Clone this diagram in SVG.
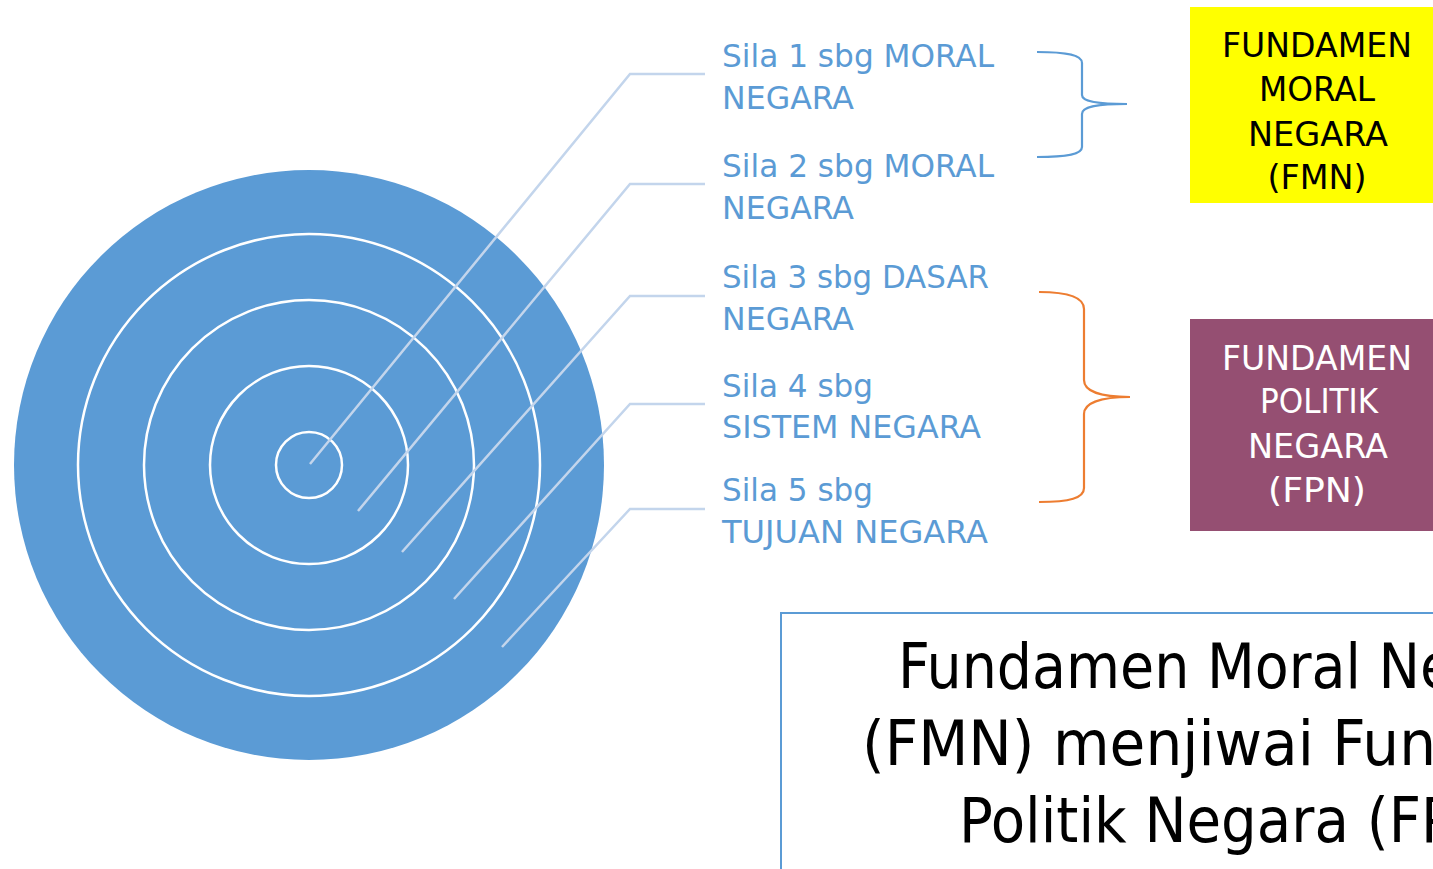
<svg xmlns="http://www.w3.org/2000/svg" width="1433" height="869" viewBox="0 0 1433 869">
  <style>
    .txt { font-family: "DejaVu Sans", "Liberation Sans", sans-serif; font-stretch: condensed; }
    .label { font-size: 32px; fill: #5b9bd5; }
    .boxtxt { font-size: 34px; text-anchor: middle; }
    .big { font-size: 62px; fill: #000000; }
    .leader { fill: none; stroke: #c3d5ec; stroke-width: 2.5; }
    .ring { fill: none; stroke: #ffffff; stroke-width: 2.5; }
  </style>

  <rect width="1433" height="869" fill="#ffffff"/>

  <!-- concentric target -->
  <g id="target">
    <circle cx="309" cy="465" r="295" fill="#5b9bd5"/>
    <circle class="ring" cx="309" cy="465" r="231"/>
    <circle class="ring" cx="309" cy="465" r="165"/>
    <circle class="ring" cx="309" cy="465" r="99"/>
    <circle class="ring" cx="309" cy="465" r="33"/>
  </g>

  <!-- leader lines and braces -->
  <g id="connectors">
    <polyline class="leader" points="310,464 630,74 705,74"/>
    <polyline class="leader" points="358,511 630,184 705,184"/>
    <polyline class="leader" points="402,552 630,296 705,296"/>
    <polyline class="leader" points="454,599 630,404 705,404"/>
    <polyline class="leader" points="502,647 630,509 705,509"/>
    <path d="M1037,52 C1068,52 1082,55 1082,63 L1082,95 C1082,101 1095,104 1127,104 C1095,104 1082,107 1082,114 L1082,147 C1082,154 1068,157 1037,157" fill="none" stroke="#5b9bd5" stroke-width="2.2"/>
    <path d="M1039,292 C1070,292 1084,298 1084,309 L1084,380 C1084,391 1100,397 1130,397 C1100,397 1084,403 1084,414 L1084,488 C1084,498 1070,502 1039,502" fill="none" stroke="#ed7d31" stroke-width="2.2"/>
  </g>

  <!-- sila labels -->
  <g id="sila1" class="txt label">
    <text x="722" y="67" textLength="272" lengthAdjust="spacingAndGlyphs">Sila 1 sbg MORAL</text>
    <text x="722" y="109" textLength="132" lengthAdjust="spacingAndGlyphs">NEGARA</text>
  </g>
  <g id="sila2" class="txt label">
    <text x="722" y="177" textLength="272" lengthAdjust="spacingAndGlyphs">Sila 2 sbg MORAL</text>
    <text x="722" y="219" textLength="132" lengthAdjust="spacingAndGlyphs">NEGARA</text>
  </g>
  <g id="sila3" class="txt label">
    <text x="722" y="288" textLength="267" lengthAdjust="spacingAndGlyphs">Sila 3 sbg DASAR</text>
    <text x="722" y="330" textLength="132" lengthAdjust="spacingAndGlyphs">NEGARA</text>
  </g>
  <g id="sila4" class="txt label">
    <text x="722" y="397" textLength="151" lengthAdjust="spacingAndGlyphs">Sila 4 sbg</text>
    <text x="722" y="438" textLength="259" lengthAdjust="spacingAndGlyphs">SISTEM NEGARA</text>
  </g>
  <g id="sila5" class="txt label">
    <text x="722" y="501" textLength="151" lengthAdjust="spacingAndGlyphs">Sila 5 sbg</text>
    <text x="722" y="543" textLength="266" lengthAdjust="spacingAndGlyphs">TUJUAN NEGARA</text>
  </g>

  <!-- FMN box -->
  <g id="fmn">
    <rect x="1190" y="7" width="250" height="196" fill="#ffff00"/>
    <g class="txt boxtxt" fill="#000000">
      <text x="1317" y="57" textLength="190" lengthAdjust="spacingAndGlyphs">FUNDAMEN</text>
      <text x="1317" y="101" textLength="116" lengthAdjust="spacingAndGlyphs">MORAL</text>
      <text x="1318" y="146" textLength="140" lengthAdjust="spacingAndGlyphs">NEGARA</text>
      <text x="1317" y="189" textLength="99" lengthAdjust="spacingAndGlyphs">(FMN)</text>
    </g>
  </g>

  <!-- FPN box -->
  <g id="fpn">
    <rect x="1190" y="319" width="250" height="212" fill="#954f72"/>
    <g class="txt boxtxt" fill="#ffffff">
      <text x="1317" y="370" textLength="190" lengthAdjust="spacingAndGlyphs">FUNDAMEN</text>
      <text x="1319" y="413" textLength="118" lengthAdjust="spacingAndGlyphs">POLITIK</text>
      <text x="1318" y="458" textLength="140" lengthAdjust="spacingAndGlyphs">NEGARA</text>
      <text x="1317" y="502" textLength="98" lengthAdjust="spacingAndGlyphs">(FPN)</text>
    </g>
  </g>

  <!-- statement box; the text runs past the right edge of the page -->
  <g id="statement">
    <rect x="781" y="613" width="700" height="300" fill="none" stroke="#5b9bd5" stroke-width="2"/>
    <g class="txt big">
      <text x="898" y="688"><tspan textLength="522" lengthAdjust="spacingAndGlyphs">Fundamen Moral N</tspan>egara</text>
      <text x="862" y="765"><tspan textLength="574" lengthAdjust="spacingAndGlyphs">(FMN) menjiwai Fun</tspan>damen</text>
      <text x="959" y="842"><tspan textLength="462" lengthAdjust="spacingAndGlyphs">Politik Negara (F</tspan>PN)</text>
    </g>
  </g>
</svg>
